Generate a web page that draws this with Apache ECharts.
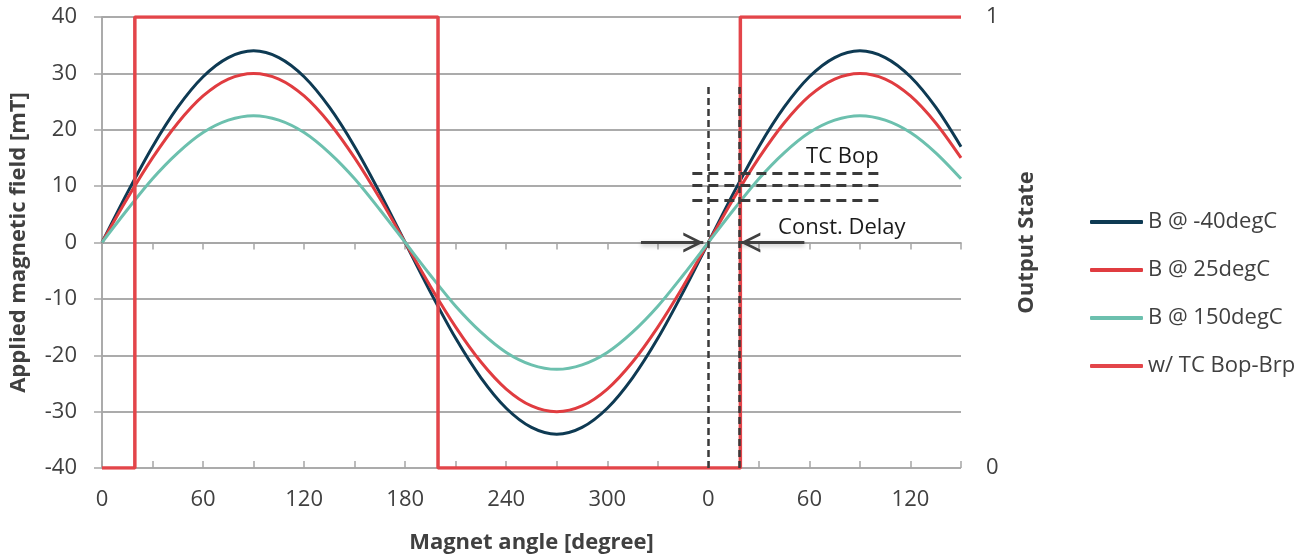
<!DOCTYPE html>
<html>
<head>
<meta charset="utf-8">
<script src="https://cdn.jsdelivr.net/npm/echarts@6/dist/echarts.min.js"></script>
<style>html,body{margin:0;padding:0;background:#fff}#c{width:1303px;height:560px}</style>
</head>
<body>
<div id="c"></div>
<script>
// ---- data ----
const angles = [0,15,30,45,60,75,90,105,120,135,150,165,180,195,210,225,240,255,270,285,300,315,330,345,360,375,390,405,420,435,450,465,480,495,510];
const bMinus40 = [0,8.8,17,24,29.4,32.8,34,32.8,29.4,24,17,8.8,0,-8.8,-17,-24,-29.4,-32.8,-34,-32.8,-29.4,-24,-17,-8.8,0,8.8,17,24,29.4,32.8,34,32.8,29.4,24,17];
const b25 = [0,7.8,15,21.2,26,29,30,29,26,21.2,15,7.8,0,-7.8,-15,-21.2,-26,-29,-30,-29,-26,-21.2,-15,-7.8,0,7.8,15,21.2,26,29,30,29,26,21.2,15];
const b150 = [0,5.8,11.3,15.9,19.5,21.7,22.5,21.7,19.5,15.9,11.3,5.8,0,-5.8,-11.3,-15.9,-19.5,-21.7,-22.5,-21.7,-19.5,-15.9,-11.3,-5.8,0,5.8,11.3,15.9,19.5,21.7,22.5,21.7,19.5,15.9,11.3];
const stateAngles = [0,19.5,19.5,199.5,199.5,379,379,510];
const stateValues = [0,0,1,1,0,0,1,1];
const seriesNames = ['B @ -40degC','B @ 25degC','B @ 150degC','w/ TC Bop-Brp'];
const xLabelValues = [0,60,120,180,240,300,360,420,480];
const xLabelTexts = ['0','60','120','180','240','300','0','60','120'];
const leftTicks = [-40,-30,-20,-10,0,10,20,30,40];
const rightTicks = [0,1];

// ---- styles ----
const FONT = 'Open Sans';
const TXT = '#404040';
const AX = '#a6a6a6';
const GRID = '#8f8f8f';
const C_DARK = '#0e3a53', C_RED = '#e03c40', C_TEAL = '#6cc0ae', C_STATE = '#e3454a';

const pair = (xs, ys) => xs.map((x, i) => [x, ys[i]]);
const chevron = 'path://M9,20 L18,40 L15.3,40 L9,26 L2.7,40 L0,40 Z M9,0 L9.05,0 L9,0.05 Z';

const chart = echarts.init(document.getElementById('c'), null, {renderer: 'canvas'});
chart.setOption({
  animation: false,
  textStyle: {fontFamily: FONT},
  grid: {left: 100, right: 342, top: 17, bottom: 92, containLabel: false},
  legend: {
    orient: 'vertical', left: 1085, top: 205,
    itemWidth: 53, itemHeight: 4, itemGap: 24,
    icon: 'roundRect',
    data: seriesNames,
    textStyle: {fontFamily: FONT, fontSize: 22, color: TXT, lineHeight: 24}
  },
  xAxis: [{
    type: 'value', min: 0, max: 510, interval: 30,
    name: 'Magnet angle [degree]', nameLocation: 'middle', nameGap: 64,
    nameTextStyle: {fontFamily: FONT, fontSize: 22, fontWeight: 'bold', color: TXT},
    axisLine: {show: true, lineStyle: {color: AX, width: 1.5}},
    axisTick: {show: true, length: 7, lineStyle: {color: AX, width: 1.5}},
    axisLabel: {
      fontFamily: FONT, fontSize: 22, color: TXT, margin: 21,
      formatter: v => { const i = xLabelValues.indexOf(v); return i >= 0 ? xLabelTexts[i] : ''; }
    },
    splitLine: {show: false}
  }, {
    type: 'value', min: 0, max: 510, interval: 30, position: 'bottom',
    axisLine: {show: false},
    axisTick: {show: true, inside: true, length: 7, lineStyle: {color: AX, width: 1.5}},
    axisLabel: {show: false}, splitLine: {show: false}
  }],
  yAxis: [{
    type: 'value', min: leftTicks[0], max: leftTicks[leftTicks.length - 1], interval: 10,
    name: 'Applied magnetic field [mT]', nameLocation: 'middle', nameGap: 72, nameRotate: 90,
    nameTextStyle: {fontFamily: FONT, fontSize: 22, fontWeight: 'bold', color: TXT},
    axisLine: {show: true, lineStyle: {color: AX, width: 1.5}},
    axisTick: {show: true, length: 8, lineStyle: {color: AX, width: 1.5}},
    axisLabel: {fontFamily: FONT, fontSize: 22, color: TXT, margin: 25},
    splitLine: {show: true, lineStyle: {color: GRID, width: 1.5}}
  }, {
    type: 'value', min: rightTicks[0], max: rightTicks[1], interval: 1, position: 'right',
    name: 'Output State', nameLocation: 'middle', nameGap: 55, nameRotate: 90,
    nameTextStyle: {fontFamily: FONT, fontSize: 22, fontWeight: 'bold', color: TXT},
    axisLine: {show: true, lineStyle: {color: AX, width: 1.5}},
    axisTick: {show: true, length: 8, lineStyle: {color: AX, width: 1.5}},
    axisLabel: {fontFamily: FONT, fontSize: 22, color: TXT, margin: 25},
    splitLine: {show: false}
  }],
  series: [
    {name: seriesNames[0], type: 'line', data: pair(angles, bMinus40), smooth: 0.3, showSymbol: false, symbol: 'none',
     lineStyle: {color: C_DARK, width: 3}, itemStyle: {color: C_DARK}, z: 3},
    {name: seriesNames[1], type: 'line', data: pair(angles, b25), smooth: 0.3, showSymbol: false, symbol: 'none',
     lineStyle: {color: C_RED, width: 3}, itemStyle: {color: C_RED}, z: 3},
    {name: seriesNames[2], type: 'line', data: pair(angles, b150), smooth: 0.3, showSymbol: false, symbol: 'none',
     lineStyle: {color: C_TEAL, width: 3}, itemStyle: {color: C_TEAL}, z: 3},
    {name: seriesNames[3], type: 'line', yAxisIndex: 1, data: pair(stateAngles, stateValues), showSymbol: false, symbol: 'none',
     lineStyle: {color: C_STATE, width: 3.5}, itemStyle: {color: C_STATE}, z: 4},
    {
      name: 'annot', type: 'line', data: [], z: 5, silent: true,
      markLine: {
        silent: true, symbol: 'none', animation: false,
        label: {show: false},
        lineStyle: {color: '#3a3a3a', width: 2.5, type: [7, 4]},
        data: [
          [{coord: [360, -40]}, {coord: [360, 28]}],
          [{coord: [378.3, -40]}, {coord: [378.3, 28]}],
          [{coord: [350.5, 12.3], lineStyle: {width: 2.8, type: [10, 6]}}, {coord: [462, 12.3]}],
          [{coord: [350.5, 10.2], lineStyle: {width: 2.8, type: [10, 6]}}, {coord: [462, 10.2]}],
          [{coord: [350.5, 7.5], lineStyle: {width: 2.8, type: [10, 6]}}, {coord: [462, 7.5]}]
        ]
      },
      markPoint: {
        silent: true, symbol: 'rect', symbolSize: 1, itemStyle: {color: 'rgba(0,0,0,0)'},
        label: {show: true, position: 'right', distance: 0, fontFamily: FONT, fontSize: 22, color: '#1a1a1a'},
        data: [
          {coord: [417.7, 15.2], label: {formatter: 'TC Bop'}},
          {coord: [401.1, 2.6], label: {formatter: 'Const. Delay'}}
        ]
      }
    },
    {
      name: 'arrows', type: 'line', data: [], z: 6, silent: true,
      markLine: {
        silent: true, symbol: ['none', chevron], symbolSize: [20, 40], animation: false,
        label: {show: false},
        lineStyle: {color: '#404040', width: 3, type: 'solid', shadowBlur: 4, shadowColor: 'rgba(0,0,0,0.25)', shadowOffsetY: 2},
        data: [
          [{coord: [320, 0]}, {coord: [357, 0]}],
          [{coord: [417, 0]}, {coord: [379, 0]}]
        ]
      }
    }
  ]
});
</script>
</body>
</html>
